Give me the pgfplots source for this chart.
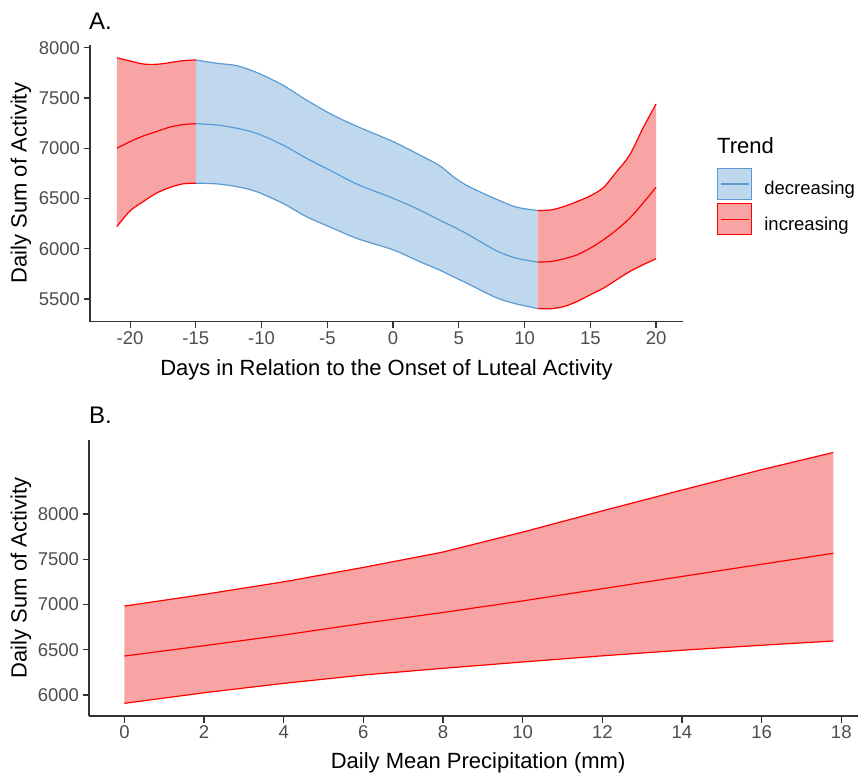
\documentclass[border=0pt]{standalone}
\usepackage{fontspec}
\setmainfont{Liberation Sans}
\usepackage{pgfplots}
\usepackage{pgfplotstable}
\pgfplotsset{compat=1.18}
\usepgfplotslibrary{fillbetween}

\definecolor{redl}{HTML}{FF0000}
\definecolor{redf}{HTML}{F8A4A4}
\definecolor{bluel}{HTML}{5B9BD5}
\definecolor{bluef}{HTML}{BFD8EE}
\definecolor{axc}{HTML}{333333}
\definecolor{tickc}{HTML}{4D4D4D}

% panel A, first increasing stretch
\pgfplotstableread{
x     lo    mid   hi
-21   6221  7000  7900
-20   6377  7066  7868
-19   6469  7122  7838
-18   6553  7165  7835
-17   6608  7209  7851
-16   6645  7235  7871
-15   6652  7244  7878
}\tabAone
% panel A, decreasing stretch
\pgfplotstableread{
x     lo    mid   hi
-15   6652  7244  7878
-13.4 6645  7232  7845
-11.9 6618  7199  7822
-10.4 6569  7149  7755
-8.4  6453  7033  7629
-6.6  6320  6901  7480
-4.6  6205  6767  7331
-2.7  6100  6640  7215
0     5989  6502  7066
2     5873  6387  6934
3.5   5790  6287  6830
4.6   5720  6218  6715
5.6   5658  6150  6630
7.1   5559  6035  6536
8.1   5500  5965  6479
9.4   5450  5905  6413
11    5405  5867  6380
}\tabAtwo
% panel A, second increasing stretch
\pgfplotstableread{
x     lo    mid   hi
11    5405  5867  6380
12    5403  5873  6386
13    5425  5900  6420
14    5475  5940  6470
15    5542  6006  6526
16    5608  6089  6609
17    5691  6188  6767
18    5773  6304  6934
19    5840  6453  7199
20    5900  6612  7440
}\tabAthree
% panel B
\pgfplotstableread{
x     lo    mid   hi
0     5908  6431  6983
2     6025  6545  7112
4     6129  6663  7251
6     6221  6792  7410
8     6295  6912  7580
10    6365  7040  7800
12    6433  7175  8035
14    6495  7310  8265
16    6550  7445  8490
17.8  6597  7566  8680
}\tabB

\pgfplotsset{
  panel/.style={
    scale only axis,
    axis lines*=left,
    axis line style={-, draw=axc, line width=1.4pt},
    tick align=outside,
    major tick length=6.5pt,
    major tick style={draw=axc, line width=1.2pt},
    tick label style={font=\fontsize{18.5}{20}\selectfont, text=tickc},
    /pgf/number format/assume math mode=true,
    /pgf/number format/1000 sep={},
    label style={font=\fontsize{22}{24}\selectfont},
    clip=false,
  },
  redline/.style={draw=redl, line width=1.2pt, line join=round, forget plot},
  blueline/.style={draw=bluel, line width=1.2pt, line join=round, forget plot},
  edge/.style={draw=none, forget plot},
}

\begin{document}
\begin{tikzpicture}
\node[anchor=base west, inner sep=0pt, font=\fontsize{24}{26}\selectfont] at (89pt,-30pt) {A.};
\node[anchor=base west, inner sep=0pt, font=\fontsize{24}{26}\selectfont] at (89pt,-423pt) {B.};

\begin{axis}[panel,
  at={(90pt,-44.7pt)}, anchor=north west,
  width=593pt, height=277pt,
  xmin=-23.05, xmax=22.05, ymin=5274, ymax=8030,
  xtick={-20,-15,...,20},
  ytick={5500,6000,...,8000},
  xlabel={Days in Relation to the Onset of Luteal Activity},
  ylabel={Daily Sum of Activity},
  xlabel style={at={(axis description cs:0.5,-0.1924)}, anchor=base},
  ylabel style={at={(axis description cs:-0.1164,0.5)}, anchor=center},
  legend style={at={(axis description cs:1.0573,0.556)}, anchor=north west,
    draw=none, fill=none, inner sep=0pt, row sep=3.2pt,
    nodes={inner sep=0pt},
    font=\fontsize{18.5}{20}\selectfont},
  legend cell align=left,
  /tikz/every odd column/.append style={column sep=12pt},
]
\addlegendimage{legend image code/.code={
  \draw[draw=bluel, fill=bluef, line width=1.2pt] (0pt,-10.6pt) rectangle (34pt,20.4pt);
  \draw[bluel, line width=1.2pt] (3pt,4.9pt) -- (31pt,4.9pt);}}
\addlegendentry{decreasing}
\addlegendimage{legend image code/.code={
  \draw[draw=redl, fill=redf, line width=1.2pt] (0pt,-10.6pt) rectangle (34pt,20.4pt);
  \draw[redl, line width=1.2pt] (3pt,4.9pt) -- (31pt,4.9pt);}}
\addlegendentry{increasing}

% bands first
\addplot[edge, smooth, name path=a1hi] table[x=x, y=hi] {\tabAone};
\addplot[edge, smooth, name path=a1lo] table[x=x, y=lo] {\tabAone};
\addplot[fill=redf, draw=none, forget plot] fill between[of=a1hi and a1lo];
\addplot[edge, smooth, name path=a2hi] table[x=x, y=hi] {\tabAtwo};
\addplot[edge, smooth, name path=a2lo] table[x=x, y=lo] {\tabAtwo};
\addplot[fill=bluef, draw=none, forget plot] fill between[of=a2hi and a2lo];
\addplot[edge, smooth, name path=a3hi] table[x=x, y=hi] {\tabAthree};
\addplot[edge, smooth, name path=a3lo] table[x=x, y=lo] {\tabAthree};
\addplot[fill=redf, draw=none, forget plot] fill between[of=a3hi and a3lo];

% then the lines
\addplot[redline, smooth] table[x=x, y=hi] {\tabAone};
\addplot[redline, smooth] table[x=x, y=mid] {\tabAone};
\addplot[redline, smooth] table[x=x, y=lo] {\tabAone};
\addplot[blueline, smooth] table[x=x, y=hi] {\tabAtwo};
\addplot[blueline, smooth] table[x=x, y=mid] {\tabAtwo};
\addplot[blueline, smooth] table[x=x, y=lo] {\tabAtwo};
\addplot[redline, smooth] table[x=x, y=hi] {\tabAthree};
\addplot[redline, smooth] table[x=x, y=mid] {\tabAthree};
\addplot[redline, smooth] table[x=x, y=lo] {\tabAthree};

\node[anchor=base west, inner sep=0pt, font=\fontsize{22}{24}\selectfont]
  at (axis description cs:1.0573,0.608) {Trend};
\end{axis}

\begin{axis}[panel,
  at={(89pt,-440pt)}, anchor=north west,
  width=769pt, height=276pt,
  xmin=-0.89, xmax=18.42, ymin=5768, ymax=8818,
  xtick={0,2,...,18},
  ytick={6000,6500,...,8000},
  xlabel={Daily Mean Precipitation (mm)},
  ylabel={Daily Sum of Activity},
  xlabel style={at={(axis description cs:0.506,-0.1895)}, anchor=base},
  ylabel style={at={(axis description cs:-0.0884,0.5)}, anchor=center},
]
\addplot[edge, name path=bhi] table[x=x, y=hi] {\tabB};
\addplot[edge, name path=blo] table[x=x, y=lo] {\tabB};
\addplot[fill=redf, draw=none, forget plot] fill between[of=bhi and blo];
\addplot[redline] table[x=x, y=hi] {\tabB};
\addplot[redline] table[x=x, y=mid] {\tabB};
\addplot[redline] table[x=x, y=lo] {\tabB};
\end{axis}

\pgfresetboundingbox
\path[use as bounding box] (0pt,0pt) rectangle (858pt,-776pt);
\end{tikzpicture}
\end{document}
